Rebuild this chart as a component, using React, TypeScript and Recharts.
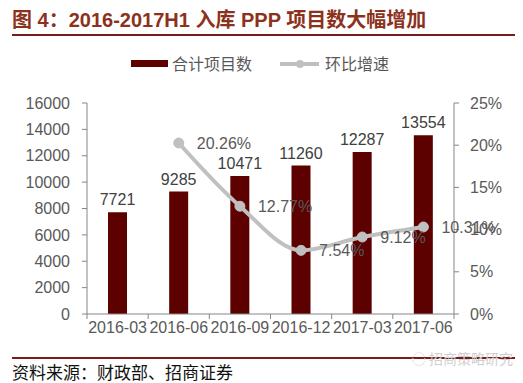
import { ComposedChart, Bar, Line, XAxis, YAxis, LabelList, Legend } from 'recharts';

const QUARTERS = ['2016-03', '2016-06', '2016-09', '2016-12', '2017-03', '2017-06'];
const PROJECT_COUNTS = [7721, 9285, 10471, 11260, 12287, 13554];
const QOQ_GROWTH: (number | null)[] = [null, 20.26, 12.77, 7.54, 9.12, 10.31];
const LEFT_TICKS = [0, 2000, 4000, 6000, 8000, 10000, 12000, 14000, 16000];
const RIGHT_TICKS = [0, 5, 10, 15, 20, 25];

const BAR_COLOR = '#5c0000';
const LINE_COLOR = '#c0c0c0';
const AXIS_COLOR = '#868686';
const TEXT_COLOR = '#595959';
const FONT = '"Liberation Sans", Arial, "Noto Sans CJK SC", sans-serif';

const data = QUARTERS.map((q, i) => ({
  quarter: q,
  count: PROJECT_COUNTS[i],
  growth: QOQ_GROWTH[i],
}));

// category axis: labels centred, tick marks on the band boundaries (Excel style)
function QuarterTick(props: any) {
  const { x, y, payload, index } = props;
  const half = payload && payload.offset ? payload.offset : 30.6;
  return (
    <g>
      {index === 0 && <line x1={x - half} y1={y - 8} x2={x - half} y2={y - 3} stroke={AXIS_COLOR} />}
      <line x1={x + half} y1={y - 8} x2={x + half} y2={y - 3} stroke={AXIS_COLOR} />
      <text x={x} y={y} dy="0.71em" textAnchor="middle" fontSize={16} fill={TEXT_COLOR} fontFamily={FONT}>
        {payload.value}
      </text>
    </g>
  );
}

function GrowthLabel(props: any) {
  const { x, y, value } = props;
  if (value == null) return null;
  return (
    <text x={x + 18} y={y} dy="0.36em" fontSize={16} fill={TEXT_COLOR} fontFamily={FONT}>
      {value.toFixed(2)}%
    </text>
  );
}

function ChartLegend() {
  return (
    <svg width={523} height={20} style={{ display: 'block' }}>
      <rect x={131} y={6} width={37} height={7} fill={BAR_COLOR} />
      <text x={172} y={10} dy="0.36em" fontSize={16} fill={TEXT_COLOR} fontFamily={FONT}>合计项目数</text>
      <line x1={280} y1={10} x2={319} y2={10} stroke={LINE_COLOR} strokeWidth={4} />
      <circle cx={300} cy={10} r={4} fill={LINE_COLOR} />
      <text x={325} y={10} dy="0.36em" fontSize={16} fill={TEXT_COLOR} fontFamily={FONT}>环比增速</text>
    </svg>
  );
}

export default function App() {
  return (
    <div style={{ position: 'absolute', left: 0, top: 0, width: 523, height: 383, background: '#fff', fontFamily: FONT }}>
      <div
        style={{
          position: 'absolute',
          left: 12,
          top: 7,
          fontSize: 20,
          fontWeight: 700,
          color: '#8c321c',
          whiteSpace: 'nowrap',
          lineHeight: '26px',
        }}
      >
        图 4：2016-2017H1 入库 PPP 项目数大幅增加
      </div>
      <div style={{ position: 'absolute', left: 12, top: 34, width: 503, height: 2, background: '#7a1c1c' }} />

      <div style={{ position: 'absolute', left: 0, top: 0 }}>
        <ComposedChart width={523} height={383} data={data} margin={{ top: 83, right: 0, bottom: 39, left: 0 }}>
          <Legend
            verticalAlign="top"
            content={() => <ChartLegend />}
            wrapperStyle={{ top: 54, left: 0, width: 523 }}
          />
          <XAxis
            dataKey="quarter"
            height={30}
            tickSize={5}
            tickMargin={3}
            tickLine={false}
            axisLine={{ stroke: AXIS_COLOR }}
            tick={<QuarterTick />}
            interval={0}
          />
          <YAxis
            yAxisId="left"
            width={87}
            domain={[0, 16000]}
            ticks={LEFT_TICKS}
            interval={0}
            tickSize={5}
            tickMargin={12}
            axisLine={{ stroke: AXIS_COLOR }}
            tickLine={{ stroke: AXIS_COLOR }}
            tick={{ fontSize: 16, fill: TEXT_COLOR, fontFamily: FONT }}
          />
          <YAxis
            yAxisId="right"
            orientation="right"
            width={69}
            domain={[0, 25]}
            ticks={RIGHT_TICKS}
            interval={0}
            tickSize={5}
            tickMargin={11}
            tickFormatter={(v: number) => `${v}%`}
            axisLine={{ stroke: AXIS_COLOR }}
            tickLine={{ stroke: AXIS_COLOR }}
            tick={{ fontSize: 16, fill: TEXT_COLOR, fontFamily: FONT, textAnchor: 'start' }}
          />
          <Bar yAxisId="left" dataKey="count" fill={BAR_COLOR} barSize={19} isAnimationActive={false}>
            <LabelList
              dataKey="count"
              position="top"
              offset={7}
              style={{ fontSize: 16, fill: '#404040', fontFamily: FONT }}
            />
          </Bar>
          <Line
            yAxisId="right"
            dataKey="growth"
            type="monotone"
            stroke={LINE_COLOR}
            strokeWidth={4}
            dot={{ r: 5, fill: LINE_COLOR, stroke: LINE_COLOR, strokeWidth: 1 }}
            activeDot={false}
            connectNulls={false}
            isAnimationActive={false}
          >
            <LabelList dataKey="growth" content={<GrowthLabel />} />
          </Line>
        </ComposedChart>
      </div>

      <div style={{ position: 'absolute', left: 12, top: 357, width: 503, height: 2, background: '#7a1c1c' }} />
      <div
        style={{
          position: 'absolute',
          right: 10,
          top: 348,
          fontSize: 14,
          color: '#cfcfcf',
          fontFamily: '"Noto Sans CJK SC", sans-serif',
          whiteSpace: 'nowrap',
        }}
      >
        ◌ 招商策略研究
      </div>
      <div
        style={{
          position: 'absolute',
          left: 12,
          top: 362,
          fontSize: 17,
          lineHeight: '20px',
          color: '#111',
          fontFamily: '"Noto Sans CJK SC", sans-serif',
          whiteSpace: 'nowrap',
        }}
      >
        资料来源：财政部、招商证券
      </div>
    </div>
  );
}
